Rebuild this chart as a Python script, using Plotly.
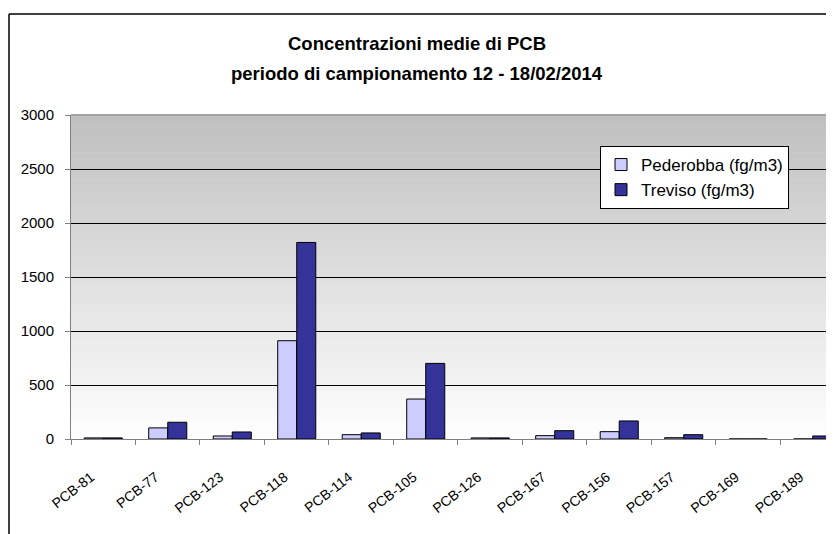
import plotly.graph_objects as go

categories = ["PCB-81", "PCB-77", "PCB-123", "PCB-118", "PCB-114", "PCB-105",
              "PCB-126", "PCB-167", "PCB-156", "PCB-157", "PCB-169", "PCB-189"]
pederobba = [10, 103, 28, 910, 40, 370, 10, 31, 68, 12, 0, 0]
treviso = [10, 155, 65, 1820, 56, 700, 10, 77, 167, 40, 0, 28]
y_ticks = [0, 500, 1000, 1500, 2000, 2500, 3000]

# page body has an 8px margin, so figure coords = screen coords - 8
OFF = 8
W, H = 826, 526
L, R, T, B = 63, 0, 107, 95
pw, ph = W - L - R, H - T - B

def px_x(x):
    return (x - OFF - L) / pw

def px_y(y):
    return (H - B - (y - OFF)) / ph

fig = go.Figure()

fig.add_trace(go.Bar(
    x=categories, y=pederobba, name="Pederobba (fg/m3)",
    marker=dict(color="#CCCCFF", line=dict(color="black", width=1)),
))
fig.add_trace(go.Bar(
    x=categories, y=treviso, name="Treviso (fg/m3)",
    marker=dict(color="#333399", line=dict(color="black", width=1)),
))

# gradient background of the plot area (grey at top -> white at bottom)
n = 60
for i in range(n):
    t = i / n
    c0 = (192, 192, 192)
    c1 = (255, 255, 255)
    f = (i + 0.5) / n
    col = tuple(int(c1[k] + (c0[k] - c1[k]) * f) for k in range(3))
    fig.add_shape(type="rect", xref="x domain", yref="y domain",
                  x0=0, x1=1, y0=t, y1=t + 1 / n + 0.002,
                  fillcolor="rgb(%d,%d,%d)" % col, line=dict(width=0), layer="below")

# top border of plot area
fig.add_shape(type="line", xref="x domain", yref="y domain", x0=0, x1=1, y0=1, y1=1,
              line=dict(color="#808080", width=1))

# outer chart border (extends past the window)
bx, by = px_x(9), px_y(14)
fig.add_shape(type="line", xref="paper", yref="paper", x0=bx, x1=bx, y0=by, y1=-0.5,
              line=dict(color="black", width=1.5))
fig.add_shape(type="line", xref="paper", yref="paper", x0=bx, x1=1.2, y0=by, y1=by,
              line=dict(color="black", width=1.5))

fig.add_annotation(text="<b>Concentrazioni medie di PCB</b>", xref="paper", yref="paper",
                   x=px_x(417), y=px_y(44), showarrow=False, yanchor="middle",
                   font=dict(size=18.5, color="black"))
fig.add_annotation(text="<b>periodo di campionamento 12 - 18/02/2014</b>", xref="paper", yref="paper",
                   x=px_x(417), y=px_y(73), showarrow=False, yanchor="middle",
                   font=dict(size=18.5, color="black"))

fig.update_layout(
    width=W, height=H,
    margin=dict(l=L, r=R, t=T, b=B),
    paper_bgcolor="white",
    plot_bgcolor="white",
    font=dict(family="Liberation Sans, Arial, sans-serif", size=15, color="black"),
    barmode="group",
    bargap=0.41,
    bargroupgap=0,
    showlegend=True,
    legend=dict(
        x=px_x(600), y=px_y(146), xanchor="left", yanchor="top",
        bgcolor="white", bordercolor="black", borderwidth=1,
        font=dict(size=17),
    ),
    xaxis=dict(
        type="category", range=[-0.5, 11.33],
        showline=True, linecolor="#808080", linewidth=1,
        ticks="outside", tickson="boundaries", ticklen=5, tickcolor="#808080",
        tickangle=-38, tickfont=dict(size=14), ticklabelstandoff=14,
        ticksuffix="\u00a0\u00a0\u00a0\u00a0",
        showgrid=False, zeroline=False, fixedrange=True,
    ),
    yaxis=dict(
        range=[0, 3000], tickvals=y_ticks,
        showline=True, linecolor="#808080", linewidth=1,
        ticks="outside", ticklen=5, tickcolor="#808080",
        tickfont=dict(size=15), ticklabelstandoff=8,
        showgrid=True, gridcolor="black", gridwidth=1,
        zeroline=False, fixedrange=True,
    ),
)

fig.write_html("out.html")
